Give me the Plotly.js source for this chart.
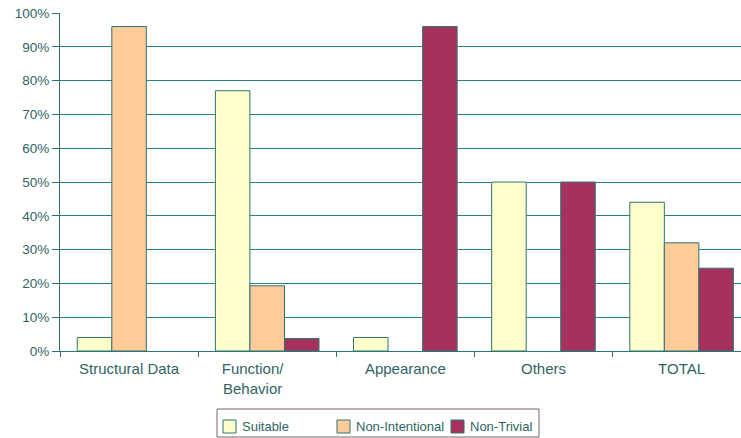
<!DOCTYPE html>
<html>
<head>
<meta charset="utf-8">
<script src="https://cdn.plot.ly/plotly-3.0.1.min.js"></script>
<style>html,body{margin:0;padding:0;background:#fff;}#chart{width:741px;height:438px;}</style>
</head>
<body>
<div id="chart"></div>
<script>
var categories = ["Structural Data", "Function/Behavior", "Appearance", "Others", "TOTAL"];
var tickLabels = ["Structural Data", "Function/\u00a0\u00a0\u00a0\u00a0\u00a0\u00a0\u00a0<br>Behavior\u00a0\u00a0\u00a0\u00a0\u00a0\u00a0\u00a0", "Appearance", "Others", "TOTAL"];
var seriesNames = ["Suitable", "Non-Intentional", "Non-Trivial"];
var suitable = [4, 77, 4, 50, 44];
var nonIntentional = [96, 19.3, 0, 0, 32];
var nonTrivial = [0, 3.7, 96, 50, 24.5];
var yTicks = [0, 10, 20, 30, 40, 50, 60, 70, 80, 90, 100];

var colors = ["#FFFFCC", "#FFCC99", "#A8305E"];
var outline = "#2E7470";
var textColor = "#2F6464";
var values = [suitable, nonIntentional, nonTrivial];

var W = 741, H = 438, L = 60, R = 0, T = 13, B = 87;
var pw = W - L - R, ph = H - T - B;
function px(x) { return (x - L) / pw; }
function py(y) { return (H - B - y) / ph; }

var traces = values.map(function (v, i) {
  return {
    type: "bar",
    name: seriesNames[i],
    x: categories,
    y: v,
    marker: {
      color: colors[i],
      line: { color: outline, width: v.map(function (d) { return d === 0 ? 0 : 1; }) }
    },
    hoverinfo: "none",
    showlegend: false
  };
});

// custom legend (box, swatches, labels)
var legendItems = [
  { sx: 223, tx: 240 },
  { sx: 337, tx: 354 },
  { sx: 451, tx: 468 }
];
var shapes = [{
  type: "rect", xref: "paper", yref: "paper",
  x0: px(217), x1: px(539), y0: py(409), y1: py(437),
  line: { color: "#7A6464", width: 1 }, fillcolor: "rgba(0,0,0,0)"
}];
var annotations = [];
legendItems.forEach(function (it, i) {
  shapes.push({
    type: "rect", xref: "paper", yref: "paper",
    x0: px(it.sx), x1: px(it.sx + 13), y0: py(420), y1: py(433),
    line: { color: outline, width: 1 }, fillcolor: colors[i]
  });
  annotations.push({
    xref: "paper", yref: "paper", x: px(it.tx), y: py(426.5),
    xanchor: "left", yanchor: "middle", showarrow: false,
    text: seriesNames[i], font: { size: 13, color: textColor }
  });
});

var layout = {
  width: W, height: H,
  margin: { l: L, r: R, t: T, b: B },
  paper_bgcolor: "#fff", plot_bgcolor: "#fff",
  barmode: "group", bargap: 0.25, bargroupgap: 0,
  font: { family: "Liberation Sans, Arial, sans-serif", size: 13, color: textColor },
  showlegend: false,
  shapes: shapes,
  annotations: annotations,
  xaxis: {
    type: "category",
    range: [-0.5, 4.43],
    tickvals: categories, ticktext: tickLabels,
    showline: true, linecolor: outline, linewidth: 1,
    ticks: "outside", tickson: "boundaries", ticklen: 5, tickcolor: outline,
    ticklabelstandoff: 4,
    tickfont: { size: 15, color: textColor },
    showgrid: false, fixedrange: true
  },
  yaxis: {
    range: [0, 100], tickvals: yTicks, ticktext: yTicks.map(function (t) { return t + "%"; }),
    showline: true, linecolor: outline, linewidth: 1,
    ticks: "outside", ticklen: 7, tickcolor: outline,
    showgrid: true, gridcolor: "#2A8280", gridwidth: 1,
    zeroline: false,
    tickfont: { size: 13.5, color: textColor },
    fixedrange: true
  }
};

Plotly.newPlot("chart", traces, layout, { displayModeBar: false, staticPlot: true });
</script>
</body>
</html>
